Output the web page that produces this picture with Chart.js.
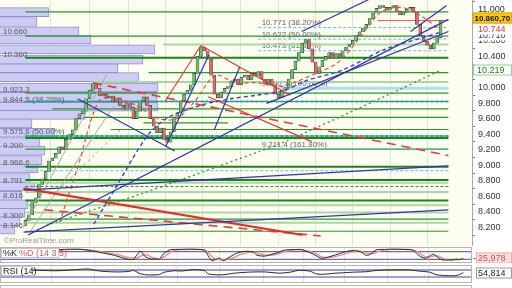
<!DOCTYPE html>
<html><head><meta charset="utf-8">
<script src="https://cdn.jsdelivr.net/npm/chart.js@4.4.1/dist/chart.umd.min.js"></script>
<style>
html,body{margin:0;padding:0;background:#fff;width:512px;height:288px;overflow:hidden;font-family:"Liberation Sans",Arial,sans-serif}
.c{position:absolute;left:0;width:512px}
#bot{position:absolute;left:0;top:285px;width:472px;height:6px;border:1px solid #b8b8b8;background:#fdfdf0;box-sizing:border-box}
</style></head><body>
<div class="c" style="top:0;height:246px"><canvas id="main"></canvas></div>
<div class="c" style="top:247px;height:16px"><canvas id="stoch"></canvas></div>
<div class="c" style="top:265px;height:18px"><canvas id="rsi"></canvas></div>
<div id="bot"></div>
<script>
// ---------- data ----------
const firstOpen = 8.22;
const closes = [8.291,8.364,8.521,8.582,8.752,8.824,8.921,9.055,9.091,9.152,
9.236,9.200,9.333,9.394,9.455,9.600,9.661,9.697,9.855,9.964,
10.048,9.988,9.891,9.915,9.867,9.891,9.818,9.867,9.770,9.721,
9.794,9.745,9.600,9.697,9.830,9.879,9.770,9.600,9.503,9.418,
9.479,9.333,9.297,9.430,9.600,9.673,9.830,9.915,9.964,10.036,
10.182,10.400,10.521,10.473,10.364,10.158,9.915,9.867,9.939,9.988,
10.012,10.085,10.109,10.036,10.133,10.158,10.097,10.182,10.145,10.206,
10.109,10.048,10.109,10.036,9.915,9.867,9.964,10.000,10.109,10.230,
10.339,10.448,10.570,10.618,10.497,10.327,10.182,10.267,10.352,10.400,
10.448,10.376,10.436,10.400,10.473,10.521,10.558,10.606,10.667,10.715,
10.764,10.812,10.885,10.958,11.018,11.055,11.030,10.994,11.030,11.055,
10.982,10.933,10.970,11.006,11.030,10.970,10.812,10.667,10.594,10.545,
10.497,10.570,10.642,10.8607];
const lastPrice = 10.8607;

const yTicks = [8.2,8.4,8.6,8.8,9.0,9.2,9.4,9.6,9.8,10.0,10.2,10.4,10.6,10.8,11.0];
const monthLines = [13.3,24.8,36.3,46.7,58.1,69.6,80.5,91.2,102.7,113.6];

// volume profile: [price, volume]
const volProfile = [[10.970,49],[10.842,37],[10.721,79],[10.618,91],[10.491,155],[10.358,143],
[10.248,118],[10.133,139],[10.000,158],[9.879,157],[9.752,158],[9.648,85],[9.539,32],
[9.418,55],[9.297,40],[9.188,45],[9.067,42],[8.958,38],[8.836,30],[8.727,35],[8.606,22],
[8.497,28],[8.388,25],[8.279,20],[8.170,15]];
const volLabels = [["10.660",10.720],["10.360",10.420],["9.923,3",9.976],["9.844,5 (38.20%)",9.844],
["9.575,6 (50.00%)",9.436],["9.200",9.250],["8.966,6",9.028],["8.791",8.800],["8.616",8.607],
["8.300",8.355],["8.146",8.223]];

// horizontal levels: [price, startIndex]
const thickLevels = [[10.384,0],[9.352,0],[8.980,0],[8.812,0],[8.547,0]];
const darkLevels = [[10.972,0],[10.660,0],[10.192,36.5],[9.928,0],[9.724,8],[9.616,17.3],[9.460,25.3],[9.208,0],[8.307,0],[8.151,0]];
const segLevels = [[9.544,35,60]];
const lightLevels = [[10.552,40.8],[10.072,20],[8.776,0],[8.655,0],[8.487,0],[8.391,0],[8.259,0]];
const tealLevels = [[9.820,0],[9.376,0]];
const greenDashLevels = [[8.727,0]];
const lightBlueDashLevels = [[8.932,0]];

// fibonacci levels (right)
const fibValues = [10.771,10.622,10.473,9.9907,9.2114];
const fibNames = ["10.771 (38.20%)","10.622 (50.00%)","10.473 (61.80%)","9.990,7 (100.00%)","9.211,4 (161.80%)"];
const fibStart = 69;

// trend lines: [x1, p1, x2, p2]
const blueLines = [[0.8,8.103,125.33,10.876],[71.47,9.796,125.33,10.720],[81.87,10.720,102.13,11.140],
[114.13,10.720,124.8,11.056],[15.47,9.856,44.27,9.184],[41.6,9.244,54.4,10.420],[56,9.460,63.47,10.264],
[-0.53,8.679,125.33,8.992],[-0.53,8.139,125.33,8.427]];
const redLines = [[52,10.540,78.4,9.904],[41.33,9.820,52,10.540],[54.13,9.880,84.8,9.304]];
const redThickLines = [[-0.53,8.703,82.13,8.103]];
const redDashLines = [[5.6,8.427,87.47,8.091],[20,10.060,125.33,9.124]];
const grayLines = [[-0.53,8.199,24.27,10.180],[1.33,8.139,26.13,9.760]];
const grayDashLines = [[8.27,8.619,28.8,9.484]];
const lastPriceStart = 104.3;

// moving averages: [index, value]
const maRed = [[10.13,8.267],[15.47,8.970],[21.6,9.818],[26.13,9.867],[32.8,9.770],[39.47,9.600],[44.8,9.600],
[50.13,9.818],[56.27,10.158],[62.13,10.061],[68.8,10.061],[75.47,10.012],[79.47,10.061],[84.8,10.158],
[92.8,10.327],[99.47,10.667],[105.33,10.970],[111.47,11.030],[116.8,10.933],[122.93,10.744]];
const maBlue = [[20.27,8.242],[26.13,8.667],[36,9.370],[42.13,9.612],[52.8,9.782],[60.8,9.855],[68.8,9.903],
[76.8,9.964],[82.93,10.085],[93.6,10.218],[106.13,10.485],[116.8,10.630],[122.93,10.710]];
const maGreen = [[2.13,8.145],[8.27,8.255],[34.13,8.630],[67.73,9.152],[76.53,9.297],[106.13,9.879],[122.93,10.219]];

// stochastic %K / %D: [index, value]
const stochK = [[0,46],[4,61],[8,77],[12,88],[16,98],[20,100],[22,96],[26,75],[30,51],[33,25],[35,19],[36,56],[37,83],
[38,46],[39,29],[40,21],[41,25],[42,21],[43,61],[44,83],[45,96],[47,98],[50,100],[52,98],[54,91],[55,46],[56,9],
[57,19],[58,29],[59,9],[60,25],[62,60],[63,72],[65,83],[67,77],[68,52],[70,45],[71,51],[72,60],[74,77],[75,91],
[77,96],[79,98],[80,96],[81,83],[82,75],[84,45],[85,29],[86,30],[87,37],[89,56],[91,75],[92,83],[94,91],[95,83],
[96,75],[97,52],[98,56],[99,77],[100,96],[102,98],[104,100],[107,98],[109,96],[110,83],[111,56],[112,35],[113,29],
[114,45],[115,60],[116,40],[117,19],[118,14],[119,16],[120,14],[121,21],[122,18],[123,25.978]];
const stochD = [[0,40],[4,56],[8,72],[12,85],[16,94],[20,98],[23,93],[27,77],[31,56],[34,33],[36,30],[37,46],[38,58],
[39,51],[40,35],[42,25],[43,35],[44,56],[45,77],[46,90],[48,96],[52,98],[54,94],[55,72],[56,40],[57,22],[58,19],
[59,16],[60,19],[62,35],[63,51],[65,69],[67,77],[68,69],[70,54],[72,54],[74,64],[75,77],[77,90],[79,96],[81,90],
[82,81],[84,61],[85,43],[86,35],[88,37],[90,51],[92,69],[94,81],[95,85],[96,81],[97,69],[99,66],[100,79],[102,92],
[104,98],[107,98],[109,96],[110,90],[111,75],[112,54],[113,39],[114,37],[115,46],[116,48],[117,35],[118,22],
[119,16],[121,17],[123,21]];
const stochBands = [80,20];
const rsiLine = [[0,68],[7,70],[10,68],[15,66],[21,74],[23,76],[26,64],[29,60],[31,59],[34,62],[35,68],[37,48],
[39,42],[42,44],[43,56],[46,66],[48,64],[51,72],[54,66],[55,48],[58,42],[60,46],[62,52],[66,58],[70,59],[74,52],
[77,58],[79,68],[82,64],[84,47],[86,46],[89,52],[91,54],[94,58],[97,60],[100,68],[105,71],[109,70],[111,64],
[114,58],[116,42],[119,37],[121,38],[122,44],[123,54.814]];
const rsiBands = [70,30];

// ---------- layout / style ----------
const X_MIN = -0.53, X_MAX = 125.33;
const FONT = '"Liberation Sans", Arial, sans-serif';
const CREAM = '#fdfdf0';

function pts(a){ return a.map(([x,y])=>({x,y})); }
function seg(s){ return [{x:s[0],y:s[1]},{x:s[2],y:s[3]}]; }
function lvl(l){ return [{x:l[1],y:l[0]},{x:(l.length>2?l[2]:X_MAX),y:l[0]}]; }
function lineDs(data,color,width,dash,order,tension){
  return {type:'line',data,borderColor:color,borderWidth:width,borderDash:dash||[],pointRadius:0,
    fill:false,tension:tension||0,order:order,yAxisID:'y',xAxisID:'x'};
}
const xScale = {type:'linear',min:X_MIN,max:X_MAX,
  afterBuildTicks:s=>{s.ticks=monthLines.map(v=>({value:v}));},
  afterFit:s=>{s.height=0;},
  grid:{color:'#e2e2d6',drawTicks:false},ticks:{display:false},border:{display:false}};

const bgPlugin = {id:'bg',beforeDraw(c){const a=c.chartArea,ctx=c.ctx;ctx.save();
  ctx.fillStyle='#fff';ctx.fillRect(0,0,c.width,c.height);
  ctx.fillStyle=CREAM;ctx.fillRect(a.left,a.top,a.right-a.left,a.bottom-a.top);ctx.restore();}};

// ---------- main chart ----------
const ds = [];
ds.push({type:'bar',id:'vol',indexAxis:'y',xAxisID:'xv',yAxisID:'y',grouped:false,
  data:volProfile.map(([p,v])=>({x:v,y:p})),barThickness:9,backgroundColor:'#cdcdf3',
  borderColor:'#9292d4',borderWidth:1,order:100});
lightLevels.forEach(l=>ds.push(lineDs(lvl(l),'#a9d7a2',2,[],60)));
darkLevels.concat(tealLevels).forEach(l=>ds.push(lineDs(lvl(l),'#2a962a',1.2,[],58)));
segLevels.forEach(l=>ds.push(lineDs(lvl(l),'#2a962a',1.2,[],58)));
thickLevels.forEach(l=>ds.push(lineDs(lvl(l),'#17851a',2,[],57)));
tealLevels.forEach(l=>ds.push(lineDs(lvl(l),'#26a7b8',2,[3,2],56)));
greenDashLevels.forEach(l=>ds.push(lineDs(lvl(l),'#2a962a',1.2,[3,2],56)));
lightBlueDashLevels.forEach(l=>ds.push(lineDs(lvl(l),'#6fcdf2',1.2,[3,2],56)));
fibValues.forEach((v,i)=>{
  if(fibNames[i].indexOf('100.00')>=0) ds.push(lineDs(lvl([v,fibStart+6.7]),'#a9dcf5',3,[],55));
  else ds.push(lineDs(lvl([v,fibStart]),'#5cc0ef',1,[3,2],55));
});
ds.push(lineDs(lvl([lastPrice,lastPriceStart]),'#e05a5a',1,[],55));
ds.push({type:'bar',id:'candles',xAxisID:'x',yAxisID:'y',grouped:false,barThickness:3,minBarLength:1,
  data:closes.map((c,i)=>({x:i,y:[i===0?firstOpen:closes[i-1],c]})),
  backgroundColor:ctx=>{const r=ctx.raw;return r&&r.y[1]>=r.y[0]?'#6cbf6c':'#de6b6b';},
  borderColor:'#3a3a3a',borderWidth:0.6,borderSkipped:false,order:40});
grayLines.forEach(s=>ds.push(lineDs(seg(s),'#a8a8a8',1,[],35)));
grayDashLines.forEach(s=>ds.push(lineDs(seg(s),'#a8a8a8',1,[3,3],35)));
ds.push(lineDs(pts(maGreen),'#3a9a3a',1.4,[2,3],30,0.3));
ds.push(lineDs(pts(maBlue),'#3c3cd0',1.4,[4,3],30,0.3));
ds.push(lineDs(pts(maRed),'#e84848',1.2,[4,3],30,0.3));
blueLines.forEach(s=>ds.push(lineDs(seg(s),'#3434aa',1.2,[],25)));
redLines.forEach(s=>ds.push(lineDs(seg(s),'#e83232',1.1,[],25)));
redThickLines.forEach(s=>ds.push(lineDs(seg(s),'#e82a2a',2.2,[],25)));
redDashLines.forEach(s=>ds.push(lineDs(seg(s),'#e83a3a',1.6,[9,6],25)));

function fmtPrice(v){ return v.toFixed(3); }
function fmtLast(v){ const s=(v*1000).toFixed(2).split('.'); const i=s[0]; return i.slice(0,i.length-3)+'.'+i.slice(-3)+','+s[1]; }

const textPlugin = {id:'txt',
  afterDatasetDraw(c,args){
    if(c.data.datasets[args.index].id!=='vol') return;
    const ctx=c.ctx,y=c.scales.y,x=c.scales.x,a=c.chartArea;
    ctx.save();ctx.font='8px '+FONT;ctx.fillStyle='#5a5a5a';ctx.textBaseline='middle';
    volLabels.forEach(([t,p])=>ctx.fillText(t,a.left+3,y.getPixelForValue(p)));
    ctx.textBaseline='bottom';ctx.fillStyle='#666';
    fibValues.forEach((v,i)=>ctx.fillText(fibNames[i],x.getPixelForValue(fibStart+1),y.getPixelForValue(v)-0.5));
    ctx.restore();
  },
  afterDraw(c){
    const ctx=c.ctx,y=c.scales.y,a=c.chartArea;
    ctx.save();
    ctx.font='8px '+FONT;ctx.fillStyle='#9a9a9a';ctx.textBaseline='middle';
    ctx.fillText('\u00A9ProRealTime.com',4,241);
    const R=a.right;
    function box(txt,val,dy,bg,border,color,font,tx){
      const py=Math.round(y.getPixelForValue(val)+dy);
      ctx.font=font+' '+FONT;
      if(bg){ctx.fillStyle=bg;ctx.fillRect(R+1,py-5.5,39,11);}
      if(border){ctx.strokeStyle=border;ctx.lineWidth=1;ctx.strokeRect(R+1.5,py-5,38,10);}
      ctx.fillStyle=color;ctx.textBaseline='middle';ctx.fillText(txt,R+tx,py+0.5);
    }
    box(fmtPrice(maGreen[maGreen.length-1][1]),maGreen[maGreen.length-1][1],0,'#ffffff','#8fd08f','#1c7d1c','9px',5);
    box(fmtPrice(maBlue[maBlue.length-1][1]),maBlue[maBlue.length-1][1],3,'#ffffff',null,'#2a2ab8','9px',6);
    box(fmtPrice(maRed[maRed.length-1][1]),maRed[maRed.length-1][1],-1,'#ffffff',null,'#e03a3a','9px',6);
    box(fmtLast(lastPrice),lastPrice,-3,'#f8c80a','#e0a800','#111','bold 8px',2.5);
    ctx.restore();
  }};

new Chart(document.getElementById('main'),{
  type:'line',data:{datasets:ds},
  options:{responsive:true,maintainAspectRatio:false,animation:false,events:[],
    layout:{padding:0,autoPadding:false},
    plugins:{legend:{display:false},tooltip:{enabled:false}},
    scales:{
      x:xScale,
      xv:{type:'linear',min:0,max:472,display:false},
      y:{type:'linear',position:'right',min:8.067,max:11.02,
        afterBuildTicks:s=>{s.ticks=yTicks.map(v=>({value:v}));},
        afterFit:s=>{s.width=40;s.paddingTop=0;s.paddingBottom=0;},
        grid:{drawOnChartArea:false,drawTicks:true,tickLength:3,color:'#777'},
        border:{display:true,color:'#a8a8a8'},
        ticks:{callback:v=>Number(v).toFixed(3),font:{family:FONT,size:9},color:'#333',padding:3}}
    }},
  plugins:[bgPlugin,textPlugin]});

// ---------- lower panels ----------
function panel(id,min,max,datasets,drawLabel){
  return new Chart(document.getElementById(id),{
    type:'line',data:{datasets},
    options:{responsive:true,maintainAspectRatio:false,animation:false,events:[],
      layout:{padding:0,autoPadding:false},
      plugins:{legend:{display:false},tooltip:{enabled:false}},
      scales:{x:xScale,
        y:{type:'linear',position:'right',min,max,
          afterFit:s=>{s.width=40;s.paddingTop=0;s.paddingBottom=0;},
          ticks:{display:false},grid:{display:false},border:{display:false}}}},
    plugins:[bgPlugin,{id:'pl',afterDraw(c){const a=c.chartArea,ctx=c.ctx;ctx.save();
      ctx.strokeStyle='#b4b4b4';ctx.lineWidth=1;
      ctx.strokeRect(a.left+0.5,a.top+0.5,a.right-a.left-1,a.bottom-a.top-1);
      drawLabel(c,ctx,a);ctx.restore();}}]});
}
function band(v,color,w){ return lineDs([{x:X_MIN,y:v},{x:X_MAX,y:v}],color,w,[],20); }

panel('stoch',-9,117,[
  band(stochBands[0],'#4646c4',1),band(stochBands[1],'#4646c4',1),
  lineDs(pts(stochD),'#f08c8c',1.4,[],12,0.3),
  lineDs(pts(stochK),'#2b2b2b',1,[],10,0.3)
],(c,ctx,a)=>{
  ctx.font='9px '+FONT;ctx.textBaseline='middle';
  ctx.fillStyle='#fff';ctx.fillRect(1,1,58,10);ctx.strokeStyle='#c8c8c8';ctx.strokeRect(1.5,1.5,57,9);
  ctx.fillStyle='#222';ctx.fillText('%K',3,6.5);ctx.fillStyle='#e05a5a';ctx.fillText('%D (14 3 5)',19,6.5);
  const v=stochK[stochK.length-1][1];const py=Math.round(c.scales.y.getPixelForValue(v))-1;
  ctx.fillStyle='#ffe1e1';ctx.fillRect(a.right+4,py-5.5,36,11);ctx.strokeStyle='#f2a8a8';ctx.strokeRect(a.right+4.5,py-5,35,10);
  ctx.fillStyle='#e04a4a';ctx.fillText(v.toFixed(3).replace('.',','),a.right+6,py+0.5);
  ctx.fillStyle='#888';ctx.fillRect(a.right+1,py,3,1);
});
panel('rsi',-4.3,98.6,[
  band(rsiBands[0],'#9a9ae6',2),band(rsiBands[1],'#4646c4',1),
  lineDs(pts(rsiLine),'#2b2b2b',1,[],10,0.3)
],(c,ctx,a)=>{
  ctx.font='9px '+FONT;ctx.textBaseline='middle';
  ctx.fillStyle='#fff';ctx.fillRect(1,1,32,10);ctx.strokeStyle='#c8c8c8';ctx.strokeRect(1.5,1.5,31,9);
  ctx.fillStyle='#222';ctx.fillText('RSI (14)',3,6.5);
  const v=rsiLine[rsiLine.length-1][1];const py=Math.round(c.scales.y.getPixelForValue(v));
  ctx.fillStyle='#fff';ctx.fillRect(a.right+4,py-5.5,36,11);ctx.strokeStyle='#999';ctx.strokeRect(a.right+4.5,py-5,35,10);
  ctx.fillStyle='#222';ctx.fillText(v.toFixed(3).replace('.',','),a.right+6,py+0.5);
});
</script>
</body></html>
